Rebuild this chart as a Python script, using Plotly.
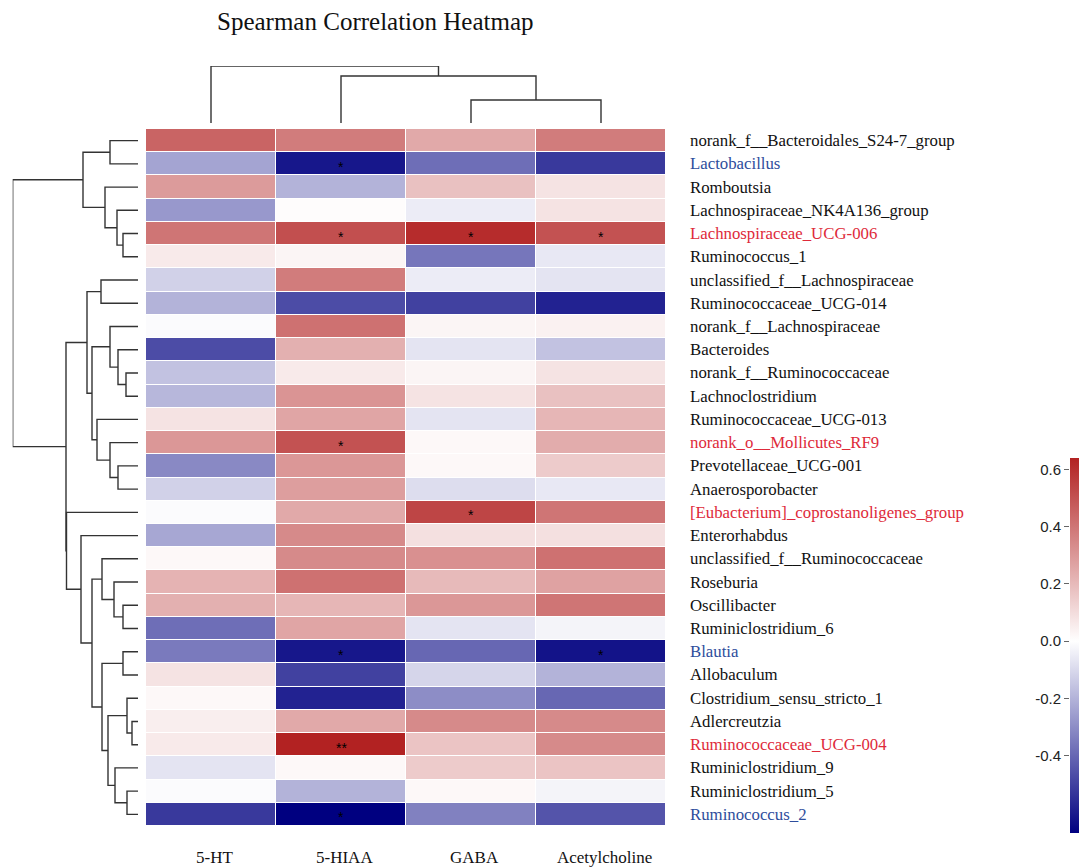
import plotly.graph_objects as go

W, H = 1087, 867
OFF = 8  # page body margin of the browser

# ---------------- data ----------------
columns = ["5-HT", "5-HIAA", "GABA", "Acetylcholine"]

rows = [
    "norank_f__Bacteroidales_S24-7_group",
    "Lactobacillus",
    "Romboutsia",
    "Lachnospiraceae_NK4A136_group",
    "Lachnospiraceae_UCG-006",
    "Ruminococcus_1",
    "unclassified_f__Lachnospiraceae",
    "Ruminococcaceae_UCG-014",
    "norank_f__Lachnospiraceae",
    "Bacteroides",
    "norank_f__Ruminococcaceae",
    "Lachnoclostridium",
    "Ruminococcaceae_UCG-013",
    "norank_o__Mollicutes_RF9",
    "Prevotellaceae_UCG-001",
    "Anaerosporobacter",
    "[Eubacterium]_coprostanoligenes_group",
    "Enterorhabdus",
    "unclassified_f__Ruminococcaceae",
    "Roseburia",
    "Oscillibacter",
    "Ruminiclostridium_6",
    "Blautia",
    "Allobaculum",
    "Clostridium_sensu_stricto_1",
    "Adlercreutzia",
    "Ruminococcaceae_UCG-004",
    "Ruminiclostridium_9",
    "Ruminiclostridium_5",
    "Ruminococcus_2",
]

# label colour groups
blue_rows = ["Lactobacillus", "Blautia", "Ruminococcus_2"]
red_rows = ["Lachnospiraceae_UCG-006", "norank_o__Mollicutes_RF9",
            "[Eubacterium]_coprostanoligenes_group", "Ruminococcaceae_UCG-004"]

# Spearman correlation values (rows x columns: 5-HT, 5-HIAA, GABA, Acetylcholine)
rho_5ht = [0.45, -0.24, 0.29, -0.27, 0.40, 0.06, -0.12, -0.20, -0.01, -0.47,
           -0.16, -0.19, 0.08, 0.30, -0.31, -0.12, -0.01, -0.23, 0.02, 0.22,
           0.23, -0.38, -0.35, 0.08, 0.02, 0.05, 0.06, -0.07, -0.01, -0.52]
rho_5hiaa = [0.38, -0.61, -0.20, 0.01, 0.51, 0.03, 0.38, -0.47, 0.41, 0.23,
             0.06, 0.31, 0.26, 0.50, 0.30, 0.28, 0.25, 0.34, 0.34, 0.41,
             0.21, 0.26, -0.61, -0.50, -0.58, 0.25, 0.64, 0.02, -0.20, -0.67]
rho_gaba = [0.25, -0.38, 0.18, -0.05, 0.61, -0.36, -0.05, -0.50, 0.03, -0.07,
            0.03, 0.08, -0.07, 0.02, 0.02, -0.09, 0.54, 0.09, 0.32, 0.20,
            0.30, -0.07, -0.40, -0.11, -0.30, 0.34, 0.17, 0.15, 0.02, -0.33]
rho_ach = [0.38, -0.52, 0.08, 0.08, 0.50, -0.06, -0.07, -0.58, 0.04, -0.16,
           0.08, 0.18, 0.21, 0.24, 0.15, -0.06, 0.40, 0.09, 0.41, 0.27,
           0.40, -0.03, -0.62, -0.20, -0.40, 0.34, 0.34, 0.17, -0.03, -0.45]

# significance marks (row, column, label)
signif = [
    ("Lactobacillus", "5-HIAA", "*"),
    ("Lachnospiraceae_UCG-006", "5-HIAA", "*"),
    ("Lachnospiraceae_UCG-006", "GABA", "*"),
    ("Lachnospiraceae_UCG-006", "Acetylcholine", "*"),
    ("norank_o__Mollicutes_RF9", "5-HIAA", "*"),
    ("[Eubacterium]_coprostanoligenes_group", "GABA", "*"),
    ("Blautia", "5-HIAA", "*"),
    ("Blautia", "Acetylcholine", "*"),
    ("Ruminococcaceae_UCG-004", "5-HIAA", "**"),
    ("Ruminococcus_2", "5-HIAA", "*"),
]

# dendrogram merges: (node, child1, child2, height); ints are leaf indices
row_merges = [
    ("a", 4, 5, 15), ("b", 3, "a", 21), ("c", 2, "b", 33),
    ("d", 0, 1, 28), ("e", "d", "c", 55),
    ("f", 6, 7, 37), ("g", 10, 11, 12), ("h", 9, "g", 20), ("i", 8, "h", 28),
    ("j", 14, 15, 20), ("k", 13, "j", 28), ("l", 12, "k", 41),
    ("m", "i", "l", 46), ("n", "f", "m", 51),
    ("o", 20, 21, 15), ("p", 19, "o", 24), ("q", 18, "p", 36),
    ("r", 22, 23, 15), ("s", 25, 26, 6), ("t", 24, "s", 11),
    ("u", 28, 29, 11), ("v", 27, "u", 23), ("w", "t", "v", 30),
    ("x", "r", "w", 36), ("y", "q", "x", 46), ("z", 17, "y", 57),
    ("N1", 16, "z", 71.5), ("N2", "n", "N1", 72), ("root", "e", "N2", 125.3),
]
col_merges = [("A", 2, 3, 23), ("B", 1, "A", 47), ("C", 0, "B", 57)]

# colour range
zmin, zmax = -0.67, 0.64
cbar_ticks = [-0.4, -0.2, 0.0, 0.2, 0.4, 0.6]
cbar_ticktext = ["-0.4", "-0.2", "0.0", "0.2", "0.4", "0.6"]

# ---------------- helpers ----------------
def px_x(p):
    return (p - OFF) / W

def px_y(p):
    return 1 - (p - OFF) / H

def dendro_segments(merges):
    pos, hgt = {}, {}
    a_list, b_list = [], []  # a = leaf-axis position, b = height
    def get(c):
        if isinstance(c, int):
            return float(c), 0.0
        return pos[c], hgt[c]
    for name, c1, c2, h in merges:
        p1, h1 = get(c1)
        p2, h2 = get(c2)
        a_list += [p1, p1, p2, p2, None]
        b_list += [h1, h, h, h2, None]
        pos[name] = (p1 + p2) / 2
        hgt[name] = h
    return a_list, b_list

serif = "Liberation Serif, Times New Roman, serif"
sans = "Liberation Sans, Arial, sans-serif"

z = [[rho_5ht[i], rho_5hiaa[i], rho_gaba[i], rho_ach[i]] for i in range(len(rows))]

white_pos = (0 - zmin) / (zmax - zmin)
colorscale = [[0, "#000080"], [white_pos, "#FFFFFF"], [1, "#B22222"]]

fig = go.Figure()

fig.add_trace(go.Heatmap(
    z=z, x=list(range(len(columns))), y=list(range(len(rows))),
    zmin=zmin, zmax=zmax, colorscale=colorscale,
    xgap=1, ygap=1, hoverinfo="skip",
    colorbar=dict(
        x=px_x(1070), xanchor="left", xpad=0, ypad=0,
        y=px_y(458), yanchor="top", len=(833 - 458) / H, lenmode="fraction",
        thickness=22, outlinewidth=0, showticklabels=False, ticks="",
    ),
    xaxis="x", yaxis="y",
))

# column dendrogram
ca, cb = dendro_segments(col_merges)
fig.add_trace(go.Scatter(x=ca, y=cb, mode="lines",
                         line=dict(color="#333333", width=1.4),
                         hoverinfo="skip", showlegend=False,
                         xaxis="x2", yaxis="y2"))

# row dendrogram
ra, rb = dendro_segments(row_merges)
fig.add_trace(go.Scatter(x=rb, y=ra, mode="lines",
                         line=dict(color="#333333", width=1.4),
                         hoverinfo="skip", showlegend=False,
                         xaxis="x3", yaxis="y3"))

# dummy trace for colorbar tick axis
fig.add_trace(go.Scatter(x=[None], y=[None], mode="markers", showlegend=False,
                         hoverinfo="skip", xaxis="x4", yaxis="y4"))

hm_x = [px_x(146), px_x(666)]
hm_y = [px_y(826), px_y(129)]
xr = [-0.5, len(columns) - 0.5]
yr = [len(rows) - 0.5, -0.5]
hidden = dict(showgrid=False, zeroline=False, showticklabels=False,
              ticks="", showline=False)

fig.update_layout(
    width=W, height=H,
    margin=dict(l=0, r=0, t=0, b=0),
    paper_bgcolor="white", plot_bgcolor="white",
    showlegend=False,
    xaxis=dict(domain=hm_x, range=xr, **hidden),
    yaxis=dict(domain=hm_y, range=yr, **hidden),
    xaxis2=dict(domain=hm_x, range=xr, anchor="y2", **hidden),
    yaxis2=dict(domain=[px_y(123), px_y(66)], range=[0, 57], anchor="x2", **hidden),
    xaxis3=dict(domain=[px_x(12.7), px_x(138)], range=[125.3, 0], anchor="y3", **hidden),
    yaxis3=dict(domain=hm_y, range=yr, anchor="x3", **hidden),
    xaxis4=dict(domain=[px_x(1070), px_x(1086)], range=[0, 1], anchor="y4", **hidden),
    yaxis4=dict(domain=[px_y(833), px_y(458)], range=[zmin, zmax], anchor="x4",
                side="left", showgrid=False, zeroline=False, showline=False,
                ticks="outside", ticklen=5, tickwidth=1, tickcolor="#666",
                tickvals=cbar_ticks, ticktext=cbar_ticktext,
                tickfont=dict(family=sans, size=15, color="#222")),
)

annotations = []
# title
annotations.append(dict(text="Spearman Correlation Heatmap", x=px_x(375), y=px_y(22),
                        xref="paper", yref="paper", showarrow=False,
                        xanchor="center", yanchor="middle",
                        font=dict(family=serif, size=25, color="#111")))
# row labels
for i, name in enumerate(rows):
    color = "#2E4D9C" if name in blue_rows else ("#DE2A3A" if name in red_rows else "#111111")
    annotations.append(dict(text=name, x=px_x(688), y=i, xref="paper", yref="y",
                            showarrow=False, xanchor="left", yanchor="middle",
                            font=dict(family=serif, size=16.8, color=color)))
# column labels
for j, name in enumerate(columns):
    annotations.append(dict(text=name, x=j, y=px_y(857), xref="x", yref="paper",
                            showarrow=False, xanchor="center", yanchor="middle",
                            xshift=3,
                            font=dict(family=serif, size=17, color="#111")))
# significance stars
for rname, cname, mark in signif:
    annotations.append(dict(text=mark, x=columns.index(cname), y=rows.index(rname),
                            xref="x", yref="y", showarrow=False,
                            xanchor="center", yanchor="middle", yshift=-3,
                            font=dict(family=sans, size=14, color="black")))

fig.update_layout(annotations=annotations)

fig.write_html("out.html")
